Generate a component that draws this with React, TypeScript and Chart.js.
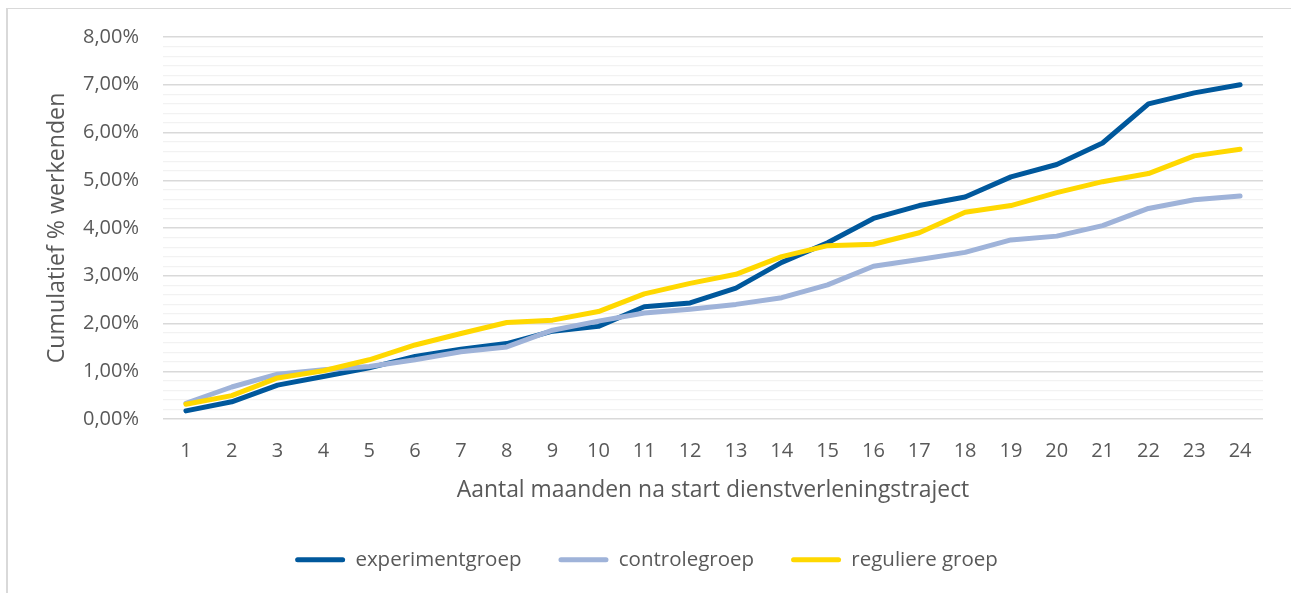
import React, { useEffect, useRef } from "react";
import { Chart, registerables } from "chart.js";

Chart.register(...registerables);

const months = ["1","2","3","4","5","6","7","8","9","10","11","12","13","14","15","16","17","18","19","20","21","22","23","24"];
const experimentgroep = [0.17,0.36,0.71,0.89,1.07,1.31,1.46,1.58,1.84,1.94,2.35,2.43,2.74,3.28,3.69,4.20,4.47,4.65,5.07,5.33,5.78,6.60,6.83,7.00];
const controlegroep = [0.33,0.67,0.94,1.03,1.10,1.24,1.41,1.51,1.86,2.05,2.22,2.30,2.40,2.54,2.81,3.20,3.34,3.49,3.75,3.83,4.05,4.41,4.59,4.67];
const regulieregroep = [0.31,0.49,0.86,1.01,1.24,1.55,1.79,2.02,2.07,2.25,2.62,2.84,3.03,3.40,3.63,3.66,3.90,4.33,4.47,4.74,4.97,5.14,5.51,5.65];
const seriesNames = ["experimentgroep", "controlegroep", "reguliere groep"];
const seriesColors = ["#00589C", "#9FB3D9", "#FFD800"];
const yTitle = "Cumulatief % werkenden";
const xTitle = "Aantal maanden na start dienstverleningstraject";

const FONT = "'Open Sans', 'Noto Sans', sans-serif";
const TEXT = "#595959";

export default function App() {
  const ref = useRef<HTMLCanvasElement | null>(null);
  useEffect(() => {
    if (!ref.current) return;
    const values = [experimentgroep, controlegroep, regulieregroep];
    const chart = new Chart(ref.current, {
      type: "line",
      data: {
        labels: months,
        datasets: values.map((d, i) => ({
          label: seriesNames[i],
          data: d,
          borderColor: seriesColors[i],
          backgroundColor: seriesColors[i],
          borderWidth: 5,
          pointRadius: 0,
          pointHoverRadius: 0,
          tension: 0,
          borderCapStyle: "round" as const,
          borderJoinStyle: "round" as const,
          order: 3 - i,
        })),
      },
      options: {
        animation: false,
        responsive: false,
        maintainAspectRatio: false,
        layout: { padding: { left: 30, top: 37, right: 28, bottom: 13 } },
        plugins: {
          tooltip: { enabled: false },
          legend: {
            position: "bottom",
            labels: {
              font: { family: FONT, size: 20.5 },
              color: TEXT,
              boxWidth: 50,
              boxHeight: 5,
              padding: 37,
              useBorderRadius: true,
              borderRadius: 2.5,
              sort: (a: any, b: any) => a.datasetIndex - b.datasetIndex,
              generateLabels: (c: any) =>
                Chart.defaults.plugins.legend.labels
                  .generateLabels(c)
                  .map((l: any) => ({ ...l, lineWidth: 0 })),
            },
          },
        },
        scales: {
          x: {
            offset: true,
            grid: { display: false, drawTicks: false },
            border: { display: false },
            ticks: { font: { family: FONT, size: 20 }, color: TEXT, padding: 20, maxRotation: 0, autoSkip: false },
            title: {
              display: true,
              text: xTitle,
              font: { family: FONT, size: 22.9 },
              color: TEXT,
              padding: { top: 0, bottom: 8.5 },
            },
            afterFit: (s: any) => { s.height = 93.5; },
          },
          y: {
            min: 0,
            max: 8,
            border: { display: false },
            grid: {
              drawTicks: false,
              color: (ctx: any) => {
                const v = ctx.tick ? ctx.tick.value : 0;
                return Math.abs(v - Math.round(v)) < 1e-6 ? "#D9D9D9" : "#F2F2F2";
              },
              lineWidth: (ctx: any) => {
                const v = ctx.tick ? ctx.tick.value : 0;
                return Math.abs(v - Math.round(v)) < 1e-6 ? 1.5 : 1.2;
              },
            },
            ticks: {
              stepSize: 0.2,
              autoSkip: false,
              padding: 24,
              font: { family: FONT, size: 20 },
              color: TEXT,
              callback: (v: any) => {
                const n = Number(v);
                return Math.abs(n - Math.round(n)) < 1e-6 ? n.toFixed(2).replace(".", ",") + "%" : "";
              },
            },
            title: {
              display: true,
              text: yTitle,
              font: { family: FONT, size: 23.2 },
              color: TEXT,
              padding: { top: 13, bottom: 0 },
            },
            afterFit: (s: any) => { s.width = 133; },
          },
        },
      },
    });
    return () => chart.destroy();
  }, []);
  return (
    <div style={{ position: "absolute", left: 0, top: 0, width: 1291, height: 593, background: "#fff" }}>
      <div style={{ position: "absolute", left: 6, top: 8, right: 0, bottom: 0, borderLeft: "2px solid #D9D9D9", borderTop: "1px solid #D9D9D9" }} />
      <canvas ref={ref} width={1291} height={593} style={{ position: "absolute", left: 0, top: 0, width: 1291, height: 593 }} />
    </div>
  );
}
